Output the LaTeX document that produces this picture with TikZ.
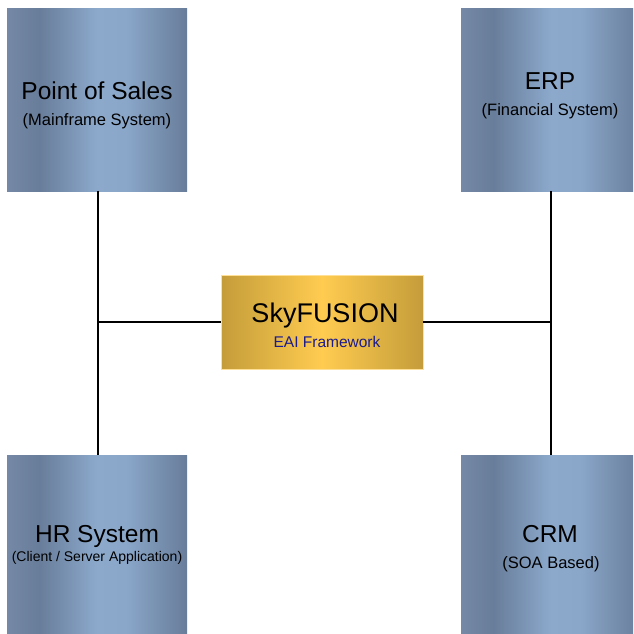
\documentclass[tikz,border=0pt]{standalone}
\usepackage{fontspec}
\setmainfont{Liberation Sans}
\usetikzlibrary{positioning}
\definecolor{BlueEdge}{HTML}{7589A6}
\definecolor{BlueDark}{HTML}{687D9A}
\definecolor{BlueLight}{HTML}{8CA9CC}
\definecolor{GoldDark}{HTML}{C49C3A}
\definecolor{GoldLight}{HTML}{FFCC50}
\definecolor{LabelBlue}{HTML}{1C1C8C}
\pgfdeclarehorizontalshading{bluebar}{100bp}{color(0bp)=(BlueEdge); color(25bp)=(BlueEdge);
    color(34bp)=(BlueDark); color(50bp)=(BlueLight); color(58bp)=(BlueLight!94!BlueDark);
    color(75bp)=(BlueDark); color(100bp)=(BlueDark)}
\pgfdeclarehorizontalshading{goldbar}{100bp}{color(0bp)=(GoldDark); color(25bp)=(GoldDark);
    color(50bp)=(GoldLight); color(75bp)=(GoldDark); color(100bp)=(GoldDark)}
\tikzstyle{system_box}=[rectangle,
        minimum width=180pt,
        minimum height=182pt,
        inner sep=0pt,
        shading=bluebar, ]
\tikzstyle{hub_box}=[rectangle,
        minimum width=202pt,
        minimum height=94pt,
        inner sep=0pt,
        draw=GoldLight!60!white,
        line width=0.5pt,
        shading=goldbar, ]
\tikzstyle{title_text}=[anchor=base, inner sep=0pt, font=\fontsize{24.5}{28}\selectfont]
\tikzstyle{sub_text}=[anchor=base, inner sep=0pt, font=\fontsize{16.5}{19}\selectfont]
\tikzstyle{link}=[line width=2pt, black]

\begin{document}
\begin{tikzpicture}[x=1pt, y=-1pt]
    \useasboundingbox (0,0) rectangle (633,634);
    \clip (0,0) rectangle (633,634);

    % systems around the hub
    \node at (97, 100) (pos) [system_box] {};
    \node at (551, 100) (erp) [system_box] {};
    \node at (97, 546) (hr) [system_box] {};
    \node at (551, 546) (crm) [system_box] {};
    \node at (322, 322) (fusion) [hub_box] {};

    \node at (97, 99) (pos-title) [title_text] {Point of Sales};
    \node at (97, 125) (pos-sub) [sub_text] {(Mainframe System)};
    \node at (550, 89) (erp-title) [title_text] {ERP};
    \node at (550, 115) (erp-sub) [sub_text] {(Financial System)};
    \node at (97, 542) (hr-title) [title_text] {HR System};
    \node at (97, 561) (hr-sub) [sub_text, font=\fontsize{14}{16}\selectfont] {(Client / Server Application)};
    \node at (550, 542) (crm-title) [title_text] {CRM};
    \node at (551, 568) (crm-sub) [sub_text] {(SOA Based)};
    \node at (325, 322) (fusion-title) [title_text, font=\fontsize{27}{30}\selectfont] {SkyFUSION};
    \node at (327, 347) (fusion-sub) [sub_text, font=\fontsize{15.5}{18}\selectfont, text=LabelBlue] {EAI Framework};

    % bus lines
    \coordinate (left-bus) at ([xshift=1pt]pos.south |- fusion.west);
    \coordinate (right-bus) at (erp.south |- fusion.east);
    \draw[link] ([xshift=1pt]pos.south) -- ([xshift=1pt]hr.north);
    \draw[link] (erp.south) -- (crm.north);
    \draw[link] (fusion.west) -- (left-bus);
    \draw[link] (fusion.east) -- (right-bus);

\end{tikzpicture}
\end{document}
